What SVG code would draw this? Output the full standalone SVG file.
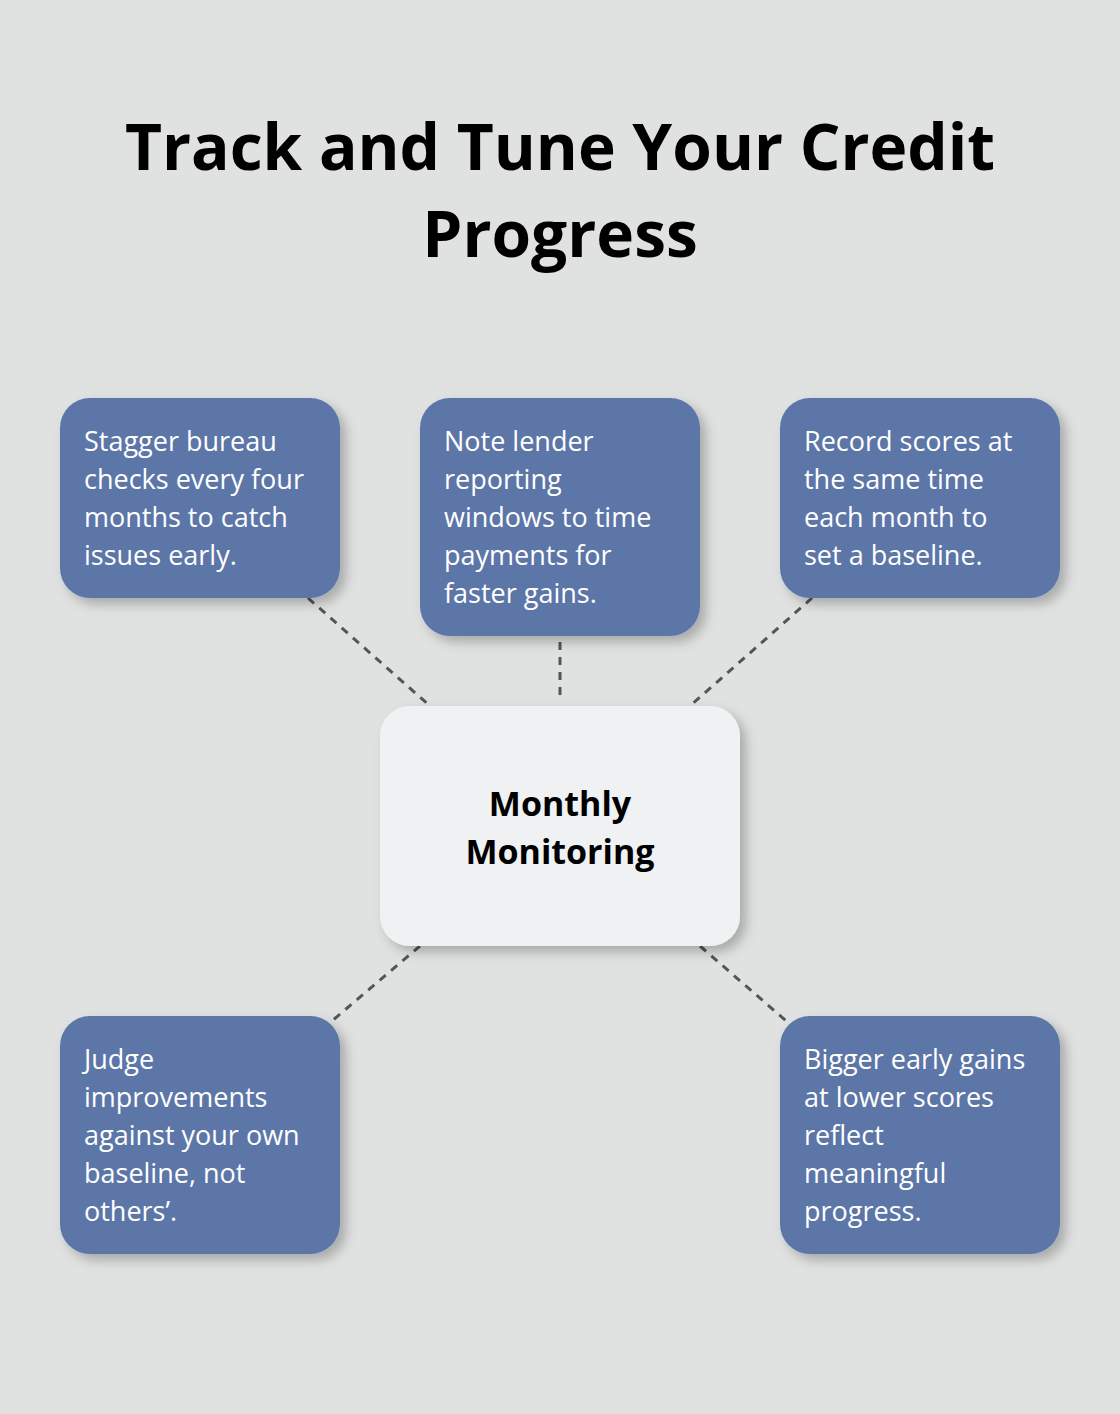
<svg xmlns="http://www.w3.org/2000/svg" width="1120" height="1414" viewBox="0 0 1120 1414">
<defs>
<filter id="sh" x="-20%" y="-20%" width="150%" height="150%"><feDropShadow dx="6" dy="6" stdDeviation="6" flood-color="#000" flood-opacity="0.25"/></filter>
<style>
.b{fill:#5d76a8;filter:url(#sh)}
.t{font-family:"Open Sans",sans-serif;font-size:27px;fill:#fff}
.c{stroke:#555;stroke-width:3;stroke-dasharray:8 7;fill:none}
</style>
</defs>
<rect width="1120" height="1414" fill="#e0e2e1"/>
<g id="title" font-family="Open Sans,sans-serif" font-weight="bold" font-size="64" text-anchor="middle" fill="#000">
<text x="560" y="170">Track and Tune Your Credit</text>
<text x="560" y="257">Progress</text>
</g>
<g id="connectors">
<line class="c" x1="308" y1="598" x2="430" y2="706"/>
<line class="c" x1="560" y1="642" x2="560" y2="700"/>
<line class="c" x1="812" y1="598" x2="690" y2="706"/>
<line class="c" x1="420" y1="946" x2="326" y2="1026"/>
<line class="c" x1="700" y1="946" x2="792" y2="1026"/>
</g>
<g id="n1"><rect class="b" x="60" y="398" width="280" height="200" rx="30"/>
<text class="t" x="84" y="451">Stagger bureau</text><text class="t" x="84" y="489">checks every four</text><text class="t" x="84" y="527">months to catch</text><text class="t" x="84" y="565">issues early.</text></g>
<g id="n2"><rect class="b" x="420" y="398" width="280" height="238" rx="30"/>
<text class="t" x="444" y="451">Note lender</text><text class="t" x="444" y="489">reporting</text><text class="t" x="444" y="527">windows to time</text><text class="t" x="444" y="565">payments for</text><text class="t" x="444" y="603">faster gains.</text></g>
<g id="n3"><rect class="b" x="780" y="398" width="280" height="200" rx="30"/>
<text class="t" x="804" y="451">Record scores at</text><text class="t" x="804" y="489">the same time</text><text class="t" x="804" y="527">each month to</text><text class="t" x="804" y="565">set a baseline.</text></g>
<g id="center"><rect x="380" y="706" width="360" height="240" rx="30" fill="#eff1f3" filter="url(#sh)"/>
<text x="560" y="816" font-family="Open Sans,sans-serif" font-weight="bold" font-size="34" text-anchor="middle">Monthly</text>
<text x="560" y="864" font-family="Open Sans,sans-serif" font-weight="bold" font-size="34" text-anchor="middle">Monitoring</text></g>
<g id="n4"><rect class="b" x="60" y="1016" width="280" height="238" rx="30"/>
<text class="t" x="84" y="1069">Judge</text><text class="t" x="84" y="1107">improvements</text><text class="t" x="84" y="1145">against your own</text><text class="t" x="84" y="1183">baseline, not</text><text class="t" x="84" y="1221">others’.</text></g>
<g id="n5"><rect class="b" x="780" y="1016" width="280" height="238" rx="30"/>
<text class="t" x="804" y="1069">Bigger early gains</text><text class="t" x="804" y="1107">at lower scores</text><text class="t" x="804" y="1145">reflect</text><text class="t" x="804" y="1183">meaningful</text><text class="t" x="804" y="1221">progress.</text></g>
</svg>
